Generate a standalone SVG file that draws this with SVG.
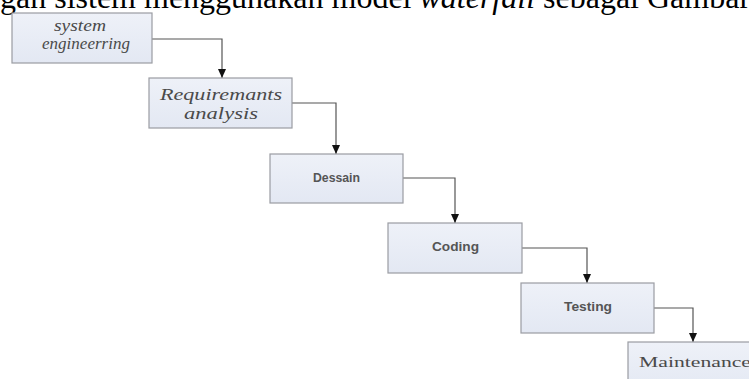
<svg xmlns="http://www.w3.org/2000/svg" width="749" height="379" viewBox="0 0 749 379">
<defs>
<style>
.box{fill:url(#g);stroke:#9a9ca2;stroke-width:1.2}
.it{font-family:"Liberation Serif",serif;font-style:italic;font-size:17px;fill:#4a4a4a}
.sf{font-family:"Liberation Serif",serif;font-size:15px;fill:#4a4a4a}
.ss{font-family:"Liberation Sans",Arial,sans-serif;font-weight:bold;font-size:12px;fill:#555}
.ln{fill:none;stroke:#555;stroke-width:1.2}
.hd{font-family:"Liberation Serif",serif;font-size:32px;fill:#000}
</style>
<linearGradient id="g" x1="0" y1="0" x2="0" y2="1">
<stop offset="0" stop-color="#eef1f8"/>
<stop offset="1" stop-color="#e3e8f3"/>
</linearGradient>
<marker id="ar" markerWidth="10" markerHeight="8" refX="9" refY="4" orient="auto" markerUnits="userSpaceOnUse">
<path d="M0,0 L9,4 L0,8 Z" fill="#111"/>
</marker>
</defs>
<rect width="749" height="379" fill="#fff"/>
<text class="hd" x="0" y="8">gan sistem menggunakan model <tspan font-style="italic">waterfall</tspan> sebagai Gambar</text>
<g id="connectors">
<polyline class="ln" points="152,39 222,39 222,78" marker-end="url(#ar)"/>
<polyline class="ln" points="292,103 336,103 336,154" marker-end="url(#ar)"/>
<polyline class="ln" points="403,178 455,178 455,223" marker-end="url(#ar)"/>
<polyline class="ln" points="522,248 587,248 587,283" marker-end="url(#ar)"/>
<polyline class="ln" points="654,308 693,308 693,342" marker-end="url(#ar)"/>
</g>
<g id="n1">
<rect class="box" x="12" y="13" width="140" height="50"/>
<text class="it" x="54" y="31" font-size="15" textLength="52" lengthAdjust="spacingAndGlyphs">system</text>
<text class="it" x="42" y="49" font-size="15" textLength="88" lengthAdjust="spacingAndGlyphs">engineerring</text>
</g>
<g id="n2">
<rect class="box" x="149" y="78" width="143" height="50"/>
<text class="it" x="160" y="100" font-size="18" textLength="122" lengthAdjust="spacingAndGlyphs">Requiremants</text>
<text class="it" x="184" y="119" font-size="18" textLength="74" lengthAdjust="spacingAndGlyphs">analysis</text>
</g>
<g id="n3">
<rect class="box" x="270" y="154" width="133" height="49"/>
<text class="ss" x="313" y="182" textLength="47" lengthAdjust="spacingAndGlyphs">Dessain</text>
</g>
<g id="n4">
<rect class="box" x="388" y="223" width="134" height="50"/>
<text class="ss" x="432" y="251" textLength="47" lengthAdjust="spacingAndGlyphs">Coding</text>
</g>
<g id="n5">
<rect class="box" x="521" y="283" width="133" height="50"/>
<text class="ss" x="564" y="311" textLength="48" lengthAdjust="spacingAndGlyphs">Testing</text>
</g>
<g id="n6">
<rect class="box" x="628" y="342" width="130" height="50"/>
<text class="sf" x="639" y="367" textLength="112" lengthAdjust="spacingAndGlyphs">Maintenance</text>
</g>
</svg>
